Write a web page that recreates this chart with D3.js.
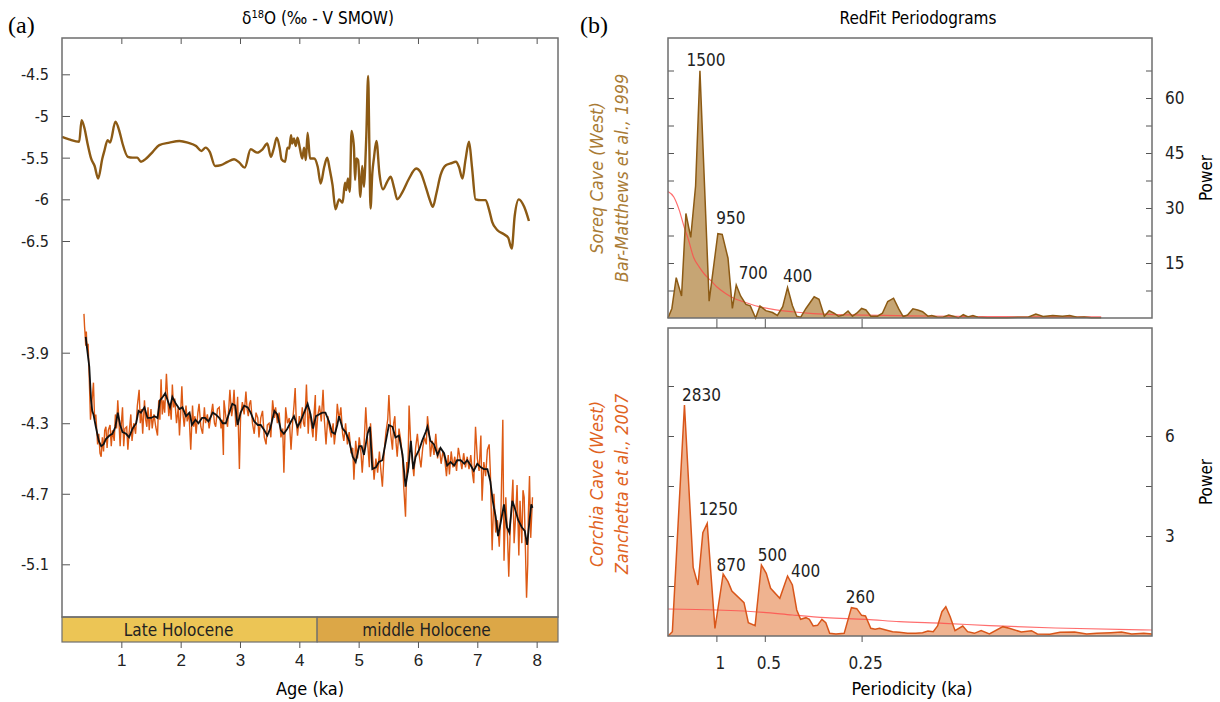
<!DOCTYPE html>
<html>
<head>
<meta charset="utf-8">
<script src="https://cdn.jsdelivr.net/npm/d3@7"></script>
<style>
  body { margin: 0; background: #fff; }
  svg { display: block; font-family: "DejaVu Sans Condensed", "DejaVu Sans", sans-serif; font-stretch: condensed; }
  .frame { fill: none; stroke: #6e6e6e; stroke-width: 1.5; }
  .tick line { stroke: #555; }
</style>
</head>
<body>
<svg id="chart" width="1220" height="702"></svg>
<script>
// --- panel (a): Soreq cave d18O [age ka, value]
var soreqData = [
  [0.00,-5.25],[0.12,-5.28],[0.29,-5.31],[0.33,-5.05],[0.38,-5.15],[0.43,-5.33],[0.49,-5.51],[0.55,-5.60],
  [0.61,-5.75],[0.68,-5.51],[0.71,-5.43],[0.77,-5.29],[0.81,-5.32],[0.90,-5.07],[0.97,-5.19],[1.02,-5.33],
  [1.11,-5.49],[1.19,-5.50],[1.27,-5.50],[1.33,-5.55],[1.42,-5.51],[1.53,-5.43],[1.64,-5.35],[1.81,-5.32],
  [1.98,-5.30],[2.12,-5.32],[2.26,-5.36],[2.35,-5.42],[2.42,-5.38],[2.49,-5.43],[2.58,-5.60],[2.68,-5.59],
  [2.79,-5.55],[2.90,-5.52],[2.99,-5.56],[3.08,-5.62],[3.18,-5.40],[3.29,-5.44],[3.38,-5.40],[3.46,-5.33],
  [3.52,-5.49],[3.57,-5.39],[3.62,-5.26],[3.67,-5.39],[3.70,-5.52],[3.76,-5.55],[3.80,-5.38],[3.83,-5.39],
  [3.86,-5.23],[3.88,-5.33],[3.91,-5.27],[3.94,-5.36],[3.97,-5.26],[4.01,-5.39],[4.05,-5.51],[4.08,-5.38],
  [4.11,-5.53],[4.14,-5.20],[4.18,-5.51],[4.25,-5.51],[4.31,-5.61],[4.36,-5.81],[4.42,-5.61],[4.47,-5.50],
  [4.51,-5.63],[4.56,-5.83],[4.61,-6.12],[4.67,-6.00],[4.73,-6.04],[4.77,-5.80],[4.79,-5.89],[4.82,-5.75],
  [4.85,-5.91],[4.88,-5.18],[4.92,-5.37],[4.94,-5.77],[4.96,-5.51],[4.99,-5.53],[5.03,-5.97],[5.06,-5.60],
  [5.09,-5.85],[5.11,-5.61],[5.13,-5.22],[5.16,-4.52],[5.18,-5.33],[5.20,-6.11],[5.23,-5.69],[5.26,-5.49],
  [5.30,-5.30],[5.35,-5.69],[5.41,-5.88],[5.48,-5.79],[5.54,-5.73],[5.60,-5.87],[5.65,-6.00],[5.74,-5.91],
  [5.85,-5.75],[5.97,-5.63],[6.04,-5.67],[6.13,-5.85],[6.20,-6.01],[6.25,-6.09],[6.31,-5.93],[6.38,-5.71],
  [6.47,-5.59],[6.55,-5.57],[6.64,-5.55],[6.69,-5.61],[6.75,-5.75],[6.80,-5.53],[6.86,-5.31],[6.91,-5.61],
  [6.97,-6.00],[7.06,-6.01],[7.14,-6.01],[7.20,-6.13],[7.25,-6.27],[7.34,-6.37],[7.45,-6.42],[7.52,-6.46],
  [7.58,-6.59],[7.63,-6.20],[7.70,-6.00],[7.79,-6.09],[7.87,-6.26]
];

// Corchia cave d18O, raw record
var corchiaRaw = [
  [0.37,-3.68],[0.38,-3.75],[0.39,-3.80],[0.40,-3.86],[0.41,-3.78],[0.42,-3.87],[0.44,-3.85],[0.46,-4.05],
  [0.48,-4.28],[0.50,-4.20],[0.53,-4.07],[0.55,-4.28],[0.57,-4.25],[0.60,-4.42],[0.62,-4.36],[0.64,-4.47],
  [0.66,-4.49],[0.68,-4.38],[0.70,-4.46],[0.72,-4.34],[0.74,-4.32],[0.76,-4.44],[0.78,-4.34],[0.81,-4.31],
  [0.83,-4.43],[0.85,-4.34],[0.88,-4.40],[0.90,-4.25],[0.92,-4.33],[0.94,-4.17],[0.96,-4.29],[0.98,-4.43],
  [1.00,-4.30],[1.02,-4.21],[1.04,-4.43],[1.06,-4.33],[1.09,-4.32],[1.11,-4.45],[1.13,-4.36],[1.16,-4.25],
  [1.18,-4.40],[1.21,-4.30],[1.24,-4.36],[1.27,-4.20],[1.30,-4.11],[1.32,-4.30],[1.34,-4.22],[1.36,-4.36],
  [1.39,-4.17],[1.41,-4.28],[1.43,-4.32],[1.45,-4.21],[1.47,-4.34],[1.50,-4.22],[1.52,-4.33],[1.55,-4.25],
  [1.58,-4.32],[1.61,-4.37],[1.63,-4.17],[1.65,-4.28],[1.67,-4.05],[1.69,-4.25],[1.71,-4.17],[1.73,-4.24],
  [1.76,-4.02],[1.78,-4.15],[1.80,-4.26],[1.82,-4.19],[1.84,-4.28],[1.86,-4.08],[1.88,-4.21],[1.90,-4.16],
  [1.93,-4.30],[1.96,-4.21],[1.98,-4.37],[2.00,-4.24],[2.02,-4.09],[2.04,-4.25],[2.06,-4.32],[2.09,-4.20],
  [2.11,-4.29],[2.14,-4.24],[2.17,-4.45],[2.20,-4.20],[2.22,-4.32],[2.24,-4.26],[2.26,-4.36],[2.29,-4.24],
  [2.31,-4.19],[2.34,-4.32],[2.37,-4.36],[2.40,-4.21],[2.42,-4.30],[2.45,-4.25],[2.48,-4.33],[2.51,-4.26],
  [2.54,-4.19],[2.57,-4.30],[2.59,-4.32],[2.62,-4.22],[2.65,-4.21],[2.68,-4.33],[2.70,-4.28],[2.72,-4.48],
  [2.73,-4.17],[2.76,-4.26],[2.79,-4.32],[2.81,-4.22],[2.83,-4.11],[2.86,-4.26],[2.88,-4.21],[2.90,-4.11],
  [2.93,-4.32],[2.96,-4.15],[2.99,-4.56],[3.01,-4.26],[3.04,-4.18],[3.07,-4.25],[3.10,-4.12],[3.12,-4.22],
  [3.14,-4.26],[3.16,-4.19],[3.18,-4.17],[3.21,-4.30],[3.24,-4.36],[3.27,-4.24],[3.30,-4.27],[3.32,-4.38],
  [3.35,-4.27],[3.38,-4.23],[3.41,-4.38],[3.44,-4.42],[3.46,-4.31],[3.49,-4.30],[3.52,-4.38],[3.55,-4.17],
  [3.58,-4.27],[3.60,-4.21],[3.63,-4.30],[3.66,-4.24],[3.69,-4.38],[3.72,-4.33],[3.74,-4.58],[3.77,-4.21],
  [3.80,-4.30],[3.83,-4.27],[3.86,-4.45],[3.89,-4.28],[3.91,-4.20],[3.93,-4.10],[3.95,-4.30],[3.97,-4.37],
  [4.00,-4.26],[4.02,-4.33],[4.05,-4.21],[4.07,-4.30],[4.09,-4.32],[4.12,-4.08],[4.15,-4.36],[4.17,-4.22],
  [4.20,-4.30],[4.23,-4.38],[4.25,-4.24],[4.27,-4.14],[4.28,-4.40],[4.31,-4.26],[4.34,-4.20],[4.37,-4.29],
  [4.40,-4.11],[4.42,-4.27],[4.45,-4.42],[4.48,-4.26],[4.51,-4.33],[4.54,-4.38],[4.57,-4.30],[4.59,-4.42],
  [4.62,-4.32],[4.64,-4.19],[4.67,-4.28],[4.70,-4.21],[4.73,-4.36],[4.75,-4.40],[4.78,-4.30],[4.81,-4.42],
  [4.84,-4.35],[4.87,-4.46],[4.90,-4.44],[4.92,-4.62],[4.95,-4.40],[4.98,-4.50],[5.01,-4.38],[5.04,-4.47],
  [5.06,-4.58],[5.09,-4.43],[5.12,-4.21],[5.15,-4.40],[5.18,-4.55],[5.20,-4.30],[5.23,-4.46],[5.26,-4.62],
  [5.29,-4.50],[5.32,-4.58],[5.35,-4.46],[5.37,-4.55],[5.40,-4.66],[5.43,-4.46],[5.46,-4.35],[5.49,-4.28],
  [5.51,-4.14],[5.54,-4.36],[5.57,-4.45],[5.59,-4.30],[5.61,-4.26],[5.63,-4.41],[5.65,-4.49],[5.68,-4.33],
  [5.71,-4.40],[5.74,-4.50],[5.76,-4.66],[5.79,-4.83],[5.81,-4.52],[5.83,-4.58],[5.85,-4.20],[5.88,-4.43],
  [5.90,-4.50],[5.93,-4.60],[5.96,-4.44],[5.99,-4.36],[6.02,-4.48],[6.05,-4.55],[6.08,-4.44],[6.11,-4.38],
  [6.14,-4.42],[6.16,-4.26],[6.19,-4.36],[6.21,-4.49],[6.24,-4.40],[6.27,-4.48],[6.30,-4.36],[6.33,-4.50],
  [6.36,-4.44],[6.39,-4.53],[6.42,-4.46],[6.45,-4.50],[6.48,-4.60],[6.51,-4.48],[6.53,-4.59],[6.56,-4.46],
  [6.59,-4.55],[6.62,-4.49],[6.65,-4.57],[6.68,-4.44],[6.71,-4.50],[6.74,-4.56],[6.77,-4.47],[6.80,-4.55],
  [6.83,-4.49],[6.86,-4.56],[6.89,-4.48],[6.92,-4.59],[6.94,-4.64],[6.97,-4.32],[7.00,-4.50],[7.03,-4.57],
  [7.06,-4.37],[7.08,-4.74],[7.11,-4.52],[7.14,-4.60],[7.17,-4.45],[7.20,-4.42],[7.22,-4.58],[7.25,-5.02],
  [7.28,-4.70],[7.31,-4.92],[7.34,-4.85],[7.37,-5.00],[7.40,-4.78],[7.43,-4.28],[7.45,-5.08],[7.48,-4.72],
  [7.51,-4.95],[7.53,-5.17],[7.56,-4.85],[7.58,-4.75],[7.60,-4.62],[7.62,-4.98],[7.65,-4.80],[7.67,-4.65],
  [7.70,-5.05],[7.72,-4.74],[7.75,-4.98],[7.77,-4.68],[7.79,-4.72],[7.81,-5.00],[7.83,-5.29],[7.85,-5.10],
  [7.86,-4.82],[7.88,-4.60],[7.90,-4.95],[7.93,-4.72]
];

// Corchia cave d18O, smoothed
var corchiaSmooth = [
  [0.40,-3.81],[0.42,-3.87],[0.46,-3.98],[0.49,-4.17],[0.51,-4.23],[0.53,-4.25],[0.57,-4.32],[0.62,-4.40],
  [0.66,-4.43],[0.70,-4.42],[0.74,-4.39],[0.80,-4.37],[0.85,-4.36],[0.90,-4.32],[0.94,-4.24],[0.98,-4.31],
  [1.02,-4.35],[1.08,-4.36],[1.13,-4.38],[1.19,-4.33],[1.25,-4.30],[1.29,-4.23],[1.33,-4.24],[1.39,-4.21],
  [1.44,-4.27],[1.50,-4.27],[1.56,-4.26],[1.61,-4.27],[1.65,-4.17],[1.70,-4.15],[1.74,-4.13],[1.78,-4.17],
  [1.82,-4.21],[1.86,-4.15],[1.92,-4.19],[1.98,-4.22],[2.03,-4.21],[2.09,-4.26],[2.15,-4.24],[2.19,-4.31],
  [2.25,-4.28],[2.30,-4.30],[2.36,-4.27],[2.41,-4.27],[2.47,-4.29],[2.54,-4.24],[2.59,-4.25],[2.65,-4.27],
  [2.71,-4.30],[2.76,-4.30],[2.82,-4.24],[2.87,-4.19],[2.92,-4.20],[2.96,-4.31],[3.01,-4.24],[3.07,-4.20],
  [3.13,-4.21],[3.18,-4.24],[3.24,-4.29],[3.30,-4.31],[3.35,-4.31],[3.41,-4.34],[3.46,-4.37],[3.51,-4.33],
  [3.58,-4.23],[3.63,-4.25],[3.69,-4.34],[3.74,-4.36],[3.80,-4.33],[3.86,-4.29],[3.91,-4.26],[3.97,-4.32],
  [4.02,-4.29],[4.08,-4.24],[4.14,-4.19],[4.19,-4.25],[4.23,-4.33],[4.28,-4.26],[4.33,-4.25],[4.39,-4.24],
  [4.44,-4.24],[4.50,-4.29],[4.55,-4.35],[4.60,-4.36],[4.64,-4.31],[4.67,-4.26],[4.73,-4.33],[4.78,-4.35],
  [4.84,-4.40],[4.90,-4.49],[4.95,-4.52],[5.01,-4.43],[5.05,-4.43],[5.09,-4.48],[5.15,-4.36],[5.19,-4.32],
  [5.23,-4.56],[5.29,-4.55],[5.34,-4.52],[5.40,-4.51],[5.46,-4.40],[5.51,-4.31],[5.57,-4.32],[5.62,-4.38],
  [5.68,-4.37],[5.74,-4.48],[5.79,-4.66],[5.84,-4.55],[5.88,-4.40],[5.92,-4.56],[5.96,-4.49],[6.02,-4.45],
  [6.07,-4.40],[6.13,-4.35],[6.16,-4.32],[6.21,-4.40],[6.27,-4.42],[6.33,-4.48],[6.38,-4.44],[6.44,-4.47],
  [6.49,-4.54],[6.55,-4.52],[6.61,-4.54],[6.66,-4.51],[6.72,-4.51],[6.78,-4.53],[6.83,-4.51],[6.89,-4.54],
  [6.94,-4.57],[7.00,-4.53],[7.06,-4.55],[7.11,-4.56],[7.17,-4.56],[7.22,-4.63],[7.26,-4.74],[7.31,-4.83],
  [7.35,-4.94],[7.39,-4.87],[7.45,-4.76],[7.50,-4.89],[7.54,-4.92],[7.59,-4.74],[7.63,-4.78],[7.69,-4.85],
  [7.75,-4.89],[7.80,-4.91],[7.84,-4.99],[7.88,-4.85],[7.91,-4.76],[7.93,-4.78]
];

var ageTicks = [1, 2, 3, 4, 5, 6, 7, 8];
var soreqTicks = [-4.5, -5, -5.5, -6, -6.5];
var corchiaTicks = [-3.9, -4.3, -4.7, -5.1];
var periods = [
  { name: "Late Holocene", from: 0, to: 4.3, color: "#ecc555" },
  { name: "middle Holocene", from: 4.3, to: 8.36, color: "#dca747" }
];

// --- panel (b): RedFit spectra [frequency 1/ka, power]
var soreqSpec = [
  [0,0],[0.08,2.6],[0.17,11],[0.28,6],[0.37,28.5],[0.47,22],[0.57,36],[0.66,67.4],[0.85,4.6],[1.03,23],
  [1.12,22.8],[1.24,16.3],[1.33,2.6],[1.41,9],[1.50,6],[1.61,3.7],[1.70,3.3],[1.81,0],[1.90,3.3],[2.02,2],
  [2.16,1.5],[2.26,0.7],[2.37,3.1],[2.47,8.3],[2.57,3.4],[2.66,0.5],[2.74,0.2],[2.85,2.6],[3.02,5.8],[3.12,5.1],
  [3.23,0.5],[3.33,2],[3.43,1.3],[3.52,0.5],[3.62,0.8],[3.72,1.9],[3.81,0.5],[3.90,1.3],[4.00,2.6],[4.09,2.2],
  [4.19,0.5],[4.33,0.5],[4.43,1.3],[4.54,4.5],[4.66,5.4],[4.77,2.4],[4.86,0.4],[4.95,0.8],[5.06,2.5],[5.16,2.2],
  [5.26,1.7],[5.37,0.5],[5.45,0.7],[5.57,0.2],[5.68,0.2],[5.80,0.8],[5.91,0.4],[6.00,0],[6.10,0.9],[6.20,0.3],
  [6.30,0.7],[6.40,0.2],[6.60,0.1],[7.00,0.1],[7.45,0.3],[7.60,1.1],[7.75,0.4],[7.95,0.7],[8.15,0.5],[8.30,0.7],
  [8.45,0.2],[8.60,0.3],[8.75,0.1],[8.95,0.1]
];
var soreqRed = [
  [0,34.5],[0.12,33],[0.23,29.5],[0.33,25],[0.43,21],[0.53,16.5],[0.64,14],[0.75,12],[0.87,10.4],[1.0,8.6],
  [1.19,6.7],[1.36,5.4],[1.54,4.5],[1.88,3.1],[2.2,2.3],[2.57,1.7],[3.0,1.2],[3.5,0.9],[4.0,0.8],[5.0,0.6],
  [6.0,0.45],[7.0,0.35],[8.0,0.3],[8.95,0.3]
];
var corchiaSpec = [
  [0,0],[0.09,0.13],[0.34,6.93],[0.52,2.06],[0.62,1.53],[0.72,3.1],[0.81,3.38],[0.97,0.23],[1.14,1.86],[1.24,1.63],
  [1.32,1.35],[1.57,1.0],[1.66,0.4],[1.80,0.31],[1.93,2.13],[2.03,1.88],[2.12,1.43],[2.31,1.13],[2.47,1.8],[2.57,1.53],
  [2.66,0.78],[2.74,0.5],[2.85,0.55],[2.92,0.5],[3.0,0.3],[3.09,0.32],[3.18,0.5],[3.26,0.4],[3.34,0.08],[3.47,0.06],
  [3.64,0.08],[3.79,0.85],[3.90,0.82],[4.0,0.62],[4.08,0.6],[4.19,0.23],[4.28,0.2],[4.37,0.23],[4.50,0.18],[4.64,0.13],
  [4.78,0.11],[4.95,0.08],[5.12,0.08],[5.26,0.1],[5.37,0.15],[5.48,0.13],[5.57,0.3],[5.66,0.73],[5.74,0.88],[5.83,0.58],
  [5.93,0.16],[6.09,0.3],[6.19,0.13],[6.33,0.08],[6.47,0.16],[6.64,0.06],[6.92,0.28],[7.05,0.23],[7.30,0.12],[7.51,0.16],
  [7.63,0.06],[7.89,0.05],[8.10,0.11],[8.40,0.12],[8.65,0.06],[8.86,0.08],[9.15,0.1],[9.37,0.12],[9.58,0.06],[9.83,0.08],
  [10,0.06]
];
var corchiaRed = [
  [0,0.81],[1.0,0.78],[1.97,0.71],[2.57,0.63],[3.26,0.55],[4.1,0.5],[4.78,0.43],[5.7,0.38],[6.64,0.31],[8.0,0.24],[10,0.18]
];

var freqTicks = [1, 2, 4];
var freqLabels = ["1", "0.5", "0.25"];
var soreqPowerTicks = [7.5, 15, 22.5, 30, 37.5, 45, 52.5, 60, 67.5];
var soreqPowerLabels = [15, 30, 45, 60];
var corchiaPowerTicks = [1.5, 3, 4.5, 6, 7.5];
var corchiaPowerLabels = [3, 6];
// peak labels: period (yr), frequency, power
var soreqPeaks = [["1500", 0.66, 67.4], ["950", 1.07, 23], ["700", 1.41, 9], ["400", 2.47, 8.3]];
var corchiaPeaks = [["2830", 0.34, 6.93], ["1250", 0.81, 3.38], ["870", 1.14, 1.86], ["500", 1.93, 2.13], ["400", 2.47, 1.8], ["260", 3.79, 0.85]];

// label nudges in px (layout only)
var soreqNudge = [[6, -5], [11, -10], [17, -6], [10, -6]];
var corchiaNudge = [[17, -4], [11, -8], [8, -3], [11, -4], [18, 1], [9, -5]];

var svg = d3.select("#chart");

// ---------- panel (a) ----------
var a_left = 62, a_right = 558, a_top = 38, a_bottom = 617, band_h = 25;

var x_age = d3.scaleLinear().domain([0, 8.36]).range([a_left, a_right]);
var y_soreq = d3.scaleLinear().domain([-4.5, -6.5]).range([74.3, 241]);
var y_corchia = d3.scaleLinear().domain([-3.9, -5.1]).range([352.7, 564.3]);

svg.append("text").attr("x", 8).attr("y", 33)
    .style("font-family", "'Liberation Serif', serif").style("font-stretch", "normal").style("font-size", "24px").text("(a)");

var title_a = svg.append("text").attr("x", 318).attr("y", 24)
    .attr("text-anchor", "middle").style("font-size", "17px");
title_a.append("tspan").text("\u03B4");
title_a.append("tspan").attr("dy", -6).style("font-size", "11px").text("18");
title_a.append("tspan").attr("dy", 6).text("O (\u2030 - V SMOW)");

// Holocene bands
svg.selectAll(".period")
    .data(periods)
    .enter().append("rect")
    .attr("class", "period")
    .attr("x", function (d) { return x_age(d.from); })
    .attr("y", a_bottom)
    .attr("width", function (d) { return x_age(d.to) - x_age(d.from); })
    .attr("height", band_h)
    .attr("fill", function (d) { return d.color; })
    .attr("stroke", "#6e6e6e").attr("stroke-width", 1.2);

svg.selectAll(".periodLabel")
    .data(periods)
    .enter().append("text")
    .attr("x", function (d) { return (x_age(d.from) + x_age(d.to)) / 2 - 11; })
    .attr("y", a_bottom + band_h / 2 + 6)
    .attr("text-anchor", "middle")
    .style("font-size", "17px").style("fill", "#222")
    .text(function (d) { return d.name; });

// age axis below the band and mirrored ticks on top
svg.append("g")
    .attr("transform", "translate(0," + (a_bottom + band_h) + ")")
    .call(d3.axisBottom(x_age).tickValues(ageTicks).tickSize(6).tickPadding(6).tickFormat(d3.format("d")))
    .call(function (g) { g.select(".domain").remove(); g.selectAll("text").style("font-size", "17px").attr("fill", "#222"); });

svg.append("g")
    .attr("transform", "translate(0," + a_top + ")")
    .call(d3.axisBottom(x_age).tickValues(ageTicks).tickSize(6).tickFormat(""))
    .call(function (g) { g.select(".domain").remove(); });

svg.append("text").attr("x", 310).attr("y", 695).attr("text-anchor", "middle")
    .style("font-size", "18px").text("Age (ka)");

// left axes, two scales on one frame
[[y_soreq, soreqTicks], [y_corchia, corchiaTicks]].forEach(function (s) {
    svg.append("g")
        .attr("transform", "translate(" + a_left + ",0)")
        .call(d3.axisRight(s[0]).tickValues(s[1]).tickSize(8).tickFormat(""))
        .call(function (g) { g.select(".domain").remove(); });
    svg.selectAll(null)
        .data(s[1])
        .enter().append("text")
        .attr("x", 49).attr("y", function (d) { return s[0](d) + 6; })
        .attr("text-anchor", "end").style("font-size", "16px").attr("fill", "#222")
        .text(function (d) { return d; });
});

var line_soreq = d3.line()
    .x(function (d) { return x_age(d[0]); })
    .y(function (d) { return y_soreq(d[1]); })
    .curve(d3.curveMonotoneX);

var line_corchia = d3.line()
    .x(function (d) { return x_age(d[0]); })
    .y(function (d) { return y_corchia(d[1]); });

svg.append("path").datum(soreqData)
    .attr("d", line_soreq)
    .attr("fill", "none").attr("stroke", "#8c5a14").attr("stroke-width", 2.4);

svg.append("path").datum(corchiaRaw)
    .attr("d", line_corchia)
    .attr("fill", "none").attr("stroke", "#dd5a14").attr("stroke-width", 1.4);

svg.append("path").datum(corchiaSmooth)
    .attr("d", line_corchia)
    .attr("fill", "none").attr("stroke", "#111").attr("stroke-width", 1.8);

svg.append("rect").attr("class", "frame")
    .attr("x", a_left).attr("y", a_top)
    .attr("width", a_right - a_left).attr("height", a_bottom - a_top);

// ---------- panel (b) ----------
var b_left = 668, b_right = 1152;
var x_freq = d3.scaleLinear().domain([0, 10]).range([b_left, b_right]);
var y_top = d3.scaleLinear().domain([0, 60]).range([318, 98]);
var y_bot = d3.scaleLinear().domain([0, 6]).range([636, 436]);

svg.append("text").attr("x", 580).attr("y", 33)
    .style("font-family", "'Liberation Serif', serif").style("font-stretch", "normal").style("font-size", "24px").text("(b)");

svg.append("text").attr("x", 918).attr("y", 24).attr("text-anchor", "middle")
    .style("font-size", "17px").text("RedFit Periodograms");

function drawSpectrum(spec, red, y, top, bottom, fill, stroke, yTicks, yLabels, peaks, nudge) {
    var area = d3.area()
        .x(function (d) { return x_freq(d[0]); })
        .y0(bottom)
        .y1(function (d) { return y(d[1]); });
    var line = d3.line()
        .x(function (d) { return x_freq(d[0]); })
        .y(function (d) { return y(d[1]); });

    svg.append("path").datum(spec).attr("d", area).attr("fill", fill);
    svg.append("path").datum(red).attr("d", line.curve(d3.curveMonotoneX))
        .attr("fill", "none").attr("stroke", "#ff4a4a").attr("stroke-opacity", 0.8).attr("stroke-width", 1.2);
    svg.append("path").datum(spec).attr("d", line.curve(d3.curveLinear))
        .attr("fill", "none").attr("stroke", stroke).attr("stroke-width", 1.5);

    // ticks on both sides, labels on the right
    svg.append("g").attr("transform", "translate(" + b_left + ",0)")
        .call(d3.axisRight(y).tickValues(yTicks).tickSize(6).tickFormat(""))
        .call(function (g) { g.select(".domain").remove(); });
    svg.append("g").attr("transform", "translate(" + b_right + ",0)")
        .call(d3.axisLeft(y).tickValues(yTicks).tickSize(6).tickFormat(""))
        .call(function (g) { g.select(".domain").remove(); });
    svg.selectAll(null).data(yLabels).enter().append("text")
        .attr("x", b_right + 13).attr("y", function (d) { return y(d) + 6; })
        .style("font-size", "17px").attr("fill", "#222")
        .text(function (d) { return d; });

    svg.append("text")
        .attr("transform", "translate(1212," + (top + bottom) / 2 + ") rotate(-90)")
        .attr("text-anchor", "middle").style("font-size", "17px").text("Power");

    svg.selectAll(null).data(peaks).enter().append("text")
        .attr("x", function (d, i) { return x_freq(d[1]) + nudge[i][0]; })
        .attr("y", function (d, i) { return y(d[2]) + nudge[i][1]; })
        .attr("text-anchor", "middle").style("font-size", "17px").attr("fill", "#222")
        .text(function (d) { return d[0]; });

    svg.append("rect").attr("class", "frame")
        .attr("x", b_left).attr("y", top)
        .attr("width", b_right - b_left).attr("height", bottom - top);
}

drawSpectrum(soreqSpec, soreqRed, y_top, 38, 318, "#c6a574", "#8c5a14",
    soreqPowerTicks, soreqPowerLabels, soreqPeaks, soreqNudge);
drawSpectrum(corchiaSpec, corchiaRed, y_bot, 328, 636, "#efb390", "#d9561a",
    corchiaPowerTicks, corchiaPowerLabels, corchiaPeaks, corchiaNudge);

// periodicity ticks between the panels and below
svg.append("g").attr("transform", "translate(0,328)")
    .call(d3.axisTop(x_freq).tickValues(freqTicks).tickSize(9).tickFormat(""))
    .call(function (g) { g.select(".domain").remove(); });
svg.append("g").attr("transform", "translate(0,636)")
    .call(d3.axisBottom(x_freq).tickValues(freqTicks).tickSize(6).tickFormat(""))
    .call(function (g) { g.select(".domain").remove(); });
svg.selectAll(null).data(freqTicks).enter().append("text")
    .attr("x", function (d) { return x_freq(d) + 4; })
    .attr("y", 669).attr("text-anchor", "middle")
    .style("font-size", "17px").attr("fill", "#222")
    .text(function (d, i) { return freqLabels[i]; });

svg.append("text").attr("x", 912).attr("y", 695).attr("text-anchor", "middle")
    .style("font-size", "18px").text("Periodicity (ka)");

// rotated site labels
var sites = [
    { l1: "Soreq Cave (West)", l2: "Bar-Matthews et al., 1999", color: "#a97b35", cy: 178 },
    { l1: "Corchia Cave (West)", l2: "Zanchetta et al., 2007", color: "#e0631f", cy: 484 }
];
sites.forEach(function (s) {
    var t = svg.append("text")
        .attr("transform", "translate(603," + s.cy + ") rotate(-90)")
        .attr("text-anchor", "middle")
        .style("font-size", "18px").style("font-style", "italic").attr("fill", s.color);
    t.append("tspan").attr("x", 0).attr("dy", 0).text(s.l1);
    t.append("tspan").attr("x", 0).attr("dy", 25).text(s.l2);
});
</script>
</body>
</html>
